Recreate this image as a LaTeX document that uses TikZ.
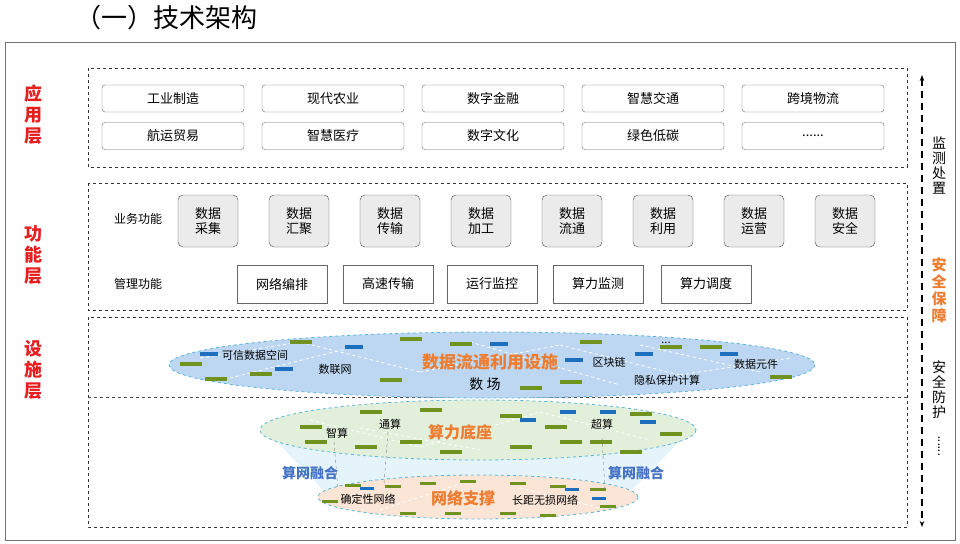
\documentclass[tikz,border=0pt]{standalone}
\usepackage{fontspec}
\setmainfont{Noto Sans CJK SC}
\usetikzlibrary{arrows.meta}
\definecolor{redl}{RGB}{230,30,30}
\definecolor{orng}{RGB}{237,125,49}
\definecolor{bluet}{RGB}{68,114,196}
\definecolor{barg}{RGB}{112,146,30}
\definecolor{barb}{RGB}{30,110,190}
\definecolor{cyanb}{RGB}{90,180,220}
\definecolor{eblue}{RGB}{189,215,242}
\definecolor{egreen}{RGB}{226,239,218}
\definecolor{epink}{RGB}{251,229,214}
\definecolor{band}{RGB}{228,244,250}
\begin{document}
\begin{tikzpicture}[x=1pt,y=-1pt,
  layer/.style={dashed,draw=black!80,line width=0.6pt},
  appbox/.style={draw=black!60,rounded corners=3pt,minimum width=142pt,minimum height=27pt,font=\fontsize{13}{14}\selectfont,inner sep=0pt},
  funbox/.style={draw=black!70,fill=black!8,rounded corners=5pt,minimum width=60pt,minimum height=52pt,font=\fontsize{13}{15}\selectfont,align=center,inner sep=0pt},
  mgbox/.style={draw=black!60,minimum width=90pt,minimum height=38pt,font=\fontsize{13}{14}\selectfont,inner sep=0pt},
  lbl/.style={font=\fontsize{12}{14}\selectfont},
  sm/.style={font=\fontsize{11}{12}\selectfont},
  side/.style={font=\fontsize{18}{21}\selectfont\bfseries,text=redl,align=center},
  vt/.style={font=\fontsize{14}{15}\selectfont,align=center},
  ell/.style={draw=cyanb,dashed,line width=0.8pt}]
\useasboundingbox (0,0) rectangle (960,543);
\node[font=\fontsize{26}{28}\selectfont,anchor=west] (title) at (72,18) {（一）技术架构};
\draw[black!55,line width=1pt] (5,43) rectangle (955,540);
\node[side] (s1) at (33,115) {应\\用\\层};
\node[side] (s2) at (33,255) {功\\能\\层};
\node[side] (s3) at (33,370) {设\\施\\层};
% application
\draw[layer] (88,68) rectangle (907,167);
\foreach \t [count=\i from 0] in {工业制造,现代农业,数字金融,智慧交通,跨境物流}
  \node[appbox] (a\i) at (173+160*\i,98.5) {\t};
\foreach \t [count=\i from 0] in {航运贸易,智慧医疗,数字文化,绿色低碳}
  \node[appbox] (b\i) at (173+160*\i,136) {\t};
\node[appbox] (b4) at (813,136) {......};
% function
\draw[layer] (88,183) rectangle (907,310);
\node[lbl] (yw) at (138,219) {业务功能};
\node[lbl] (gl) at (138,284) {管理功能};
\foreach \t [count=\i from 0] in {数据\\采集,数据\\汇聚,数据\\传输,数据\\加工,数据\\流通,数据\\利用,数据\\运营,数据\\安全}
  \node[funbox] (f\i) at (208+91*\i,221) {\t};
\node[mgbox] (m0) at (282,284) {网络编排};
\node[mgbox] (m1) at (388,284) {高速传输};
\node[mgbox] (m2) at (492,284) {运行监控};
\node[mgbox] (m3) at (598,284) {算力监测};
\node[mgbox] (m4) at (706,284) {算力调度};
% facility
\draw[layer] (88,317) rectangle (907,527);
\draw[dashed,black!70,line width=0.6pt] (88,397) -- (907,397);
% band
\fill[band] (275,440) -- (681,440) -- (630,492) -- (325,492) -- cycle;
\draw[ell,fill=eblue] (492,365) ellipse (323 and 33);
\draw[ell,fill=egreen] (478,430) ellipse (218 and 30);
\draw[ell,fill=epink] (478,497) ellipse (160 and 22);
% white dashed web
\foreach \a/\b in {{200,358}/{300,342},{300,342}/{420,372},{420,372}/{560,345},{560,345}/{680,375},{680,375}/{790,358},{230,378}/{350,348},{470,342}/{620,385},{640,345}/{760,372},{310,420}/{420,447},{420,447}/{540,412},{540,412}/{650,440},{360,428}/{480,450},{380,510}/{460,484},{520,488}/{600,508}}
  \draw[white,dashed,line width=0.8pt] (\a) -- (\b);
% bars blue ellipse
\foreach \x/\y in {180/362,205/377,290/340,400/337,450/342,380/378,520/386,580/340,660/345,700/345,770/375,250/372,560/380}
  \fill[barg] (\x,\y) rectangle +(22,4);
\foreach \x/\y in {200/352,275/367,345/345,490/342,565/358,635/352,720/352}
  \fill[barb] (\x,\y) rectangle +(18,3.5);
% bars green ellipse
\foreach \x/\y in {300/425,305/440,360/410,420/408,355/445,440/450,510/445,500/414,545/425,560/440,590/440,630/412,660/432,620/450,400/440}
  \fill[barg] (\x,\y) rectangle +(22,4);
\foreach \x/\y in {520/418,560/410,600/410,640/420}
  \fill[barb] (\x,\y) rectangle +(16,3.5);
% bars pink ellipse
\foreach \x/\y in {345/484,385/485,420/482,460/480,510/482,550/485,590/488,400/512,445/512,500/512,540/514,600/505,322/500}
  \fill[barg] (\x,\y) rectangle +(16,3);
\foreach \x/\y in {360/487,565/488,592/497}
  \fill[barb] (\x,\y) rectangle +(14,3);
% facility texts
\node[sm] (t1) at (255,355) {可信数据空间};
\node[sm] (t2) at (335,369) {数联网};
\node[font=\fontsize{17}{19}\selectfont\bfseries,text=orng] (t3) at (490,362) {数据流通利用设施};
\node[font=\fontsize{14}{16}\selectfont] (t4) at (485,384) {数\ 场};
\node[sm] (t5) at (609,362) {区块链};
\node[sm] (t6) at (667,380) {隐私保护计算};
\node[sm] (t7) at (756,364) {数据元件};
\node[sm] (t8) at (666,343) {...};
\node[sm] (g1) at (337,433) {智算};
\node[sm] (g2) at (390,424) {通算};
\node[font=\fontsize{16}{18}\selectfont\bfseries,text=orng] (g3) at (460,432) {算力底座};
\node[sm] (g4) at (602,424) {超算};
\node[font=\fontsize{14}{16}\selectfont\bfseries,text=bluet] (r1) at (310,473) {算网融合};
\node[font=\fontsize{14}{16}\selectfont\bfseries,text=bluet] (r2) at (636,473) {算网融合};
\node[sm] (n1) at (368,499) {确定性网络};
\node[font=\fontsize{16}{18}\selectfont\bfseries,text=orng] (n2) at (463,498) {网络支撑};
\node[sm] (n3) at (545,500) {长距无损网络};
\coordinate (c1) at (338,490); \coordinate (c2) at (334,442);
\coordinate (c3) at (384,484); \coordinate (c4) at (388,432);
\coordinate (c5) at (605,490); \coordinate (c6) at (602,438);
\draw[dashed,black!50,line width=0.4pt] (c2) -- (c1);
\draw[dashed,black!50,line width=0.4pt] (c4) -- (c3);
\draw[dashed,black!50,line width=0.4pt] (c6) -- (c5);
% right side
\coordinate (ar1) at (922,75); \coordinate (ar2) at (922,527);
\draw[line width=1.8pt,dash pattern=on 7pt off 5pt,{Stealth[length=6pt]}-{Stealth[length=6pt]}] (ar1) -- (ar2);
\node[vt] (v1) at (939,165) {监\\测\\处\\置};
\node[vt,font=\fontsize{15}{17}\selectfont\bfseries,text=orng] (v2) at (939,290) {安\\全\\保\\障};
\node[vt] (v3) at (939,390) {安\\全\\防\\护};
\node[font=\fontsize{12}{12}\selectfont,rotate=90] (v4) at (939,446) {......};
\end{tikzpicture}
\end{document}
